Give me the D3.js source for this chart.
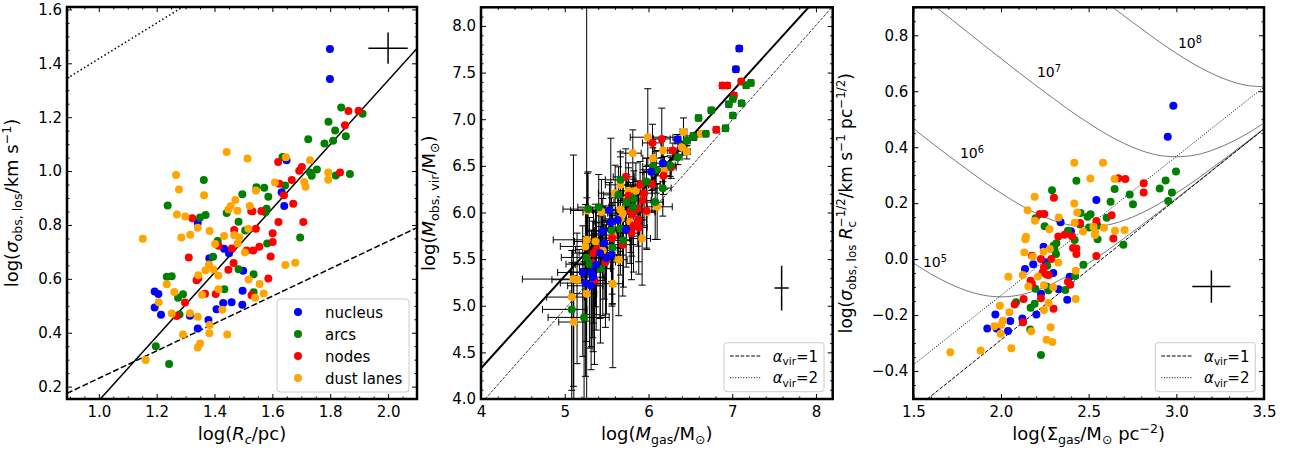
<!DOCTYPE html>
<html>
<head>
<meta charset="utf-8">
<script src="https://cdn.jsdelivr.net/npm/d3@7"></script>
<style>
body { margin: 0; background: #fff; }
svg { font-family: "DejaVu Sans", sans-serif; }
text { white-space: pre; }
</style>
</head>
<body>
<div id="chart"></div>
<script>
const categories = ['nucleus', 'arcs', 'nodes', 'dust lanes'];
const colors = ['#0000ff', '#008000', '#ff0000', '#ffa500'];

// panel 1: [log Rc, log sigma]
const p1Nucleus = [[1.799,1.453],[1.799,1.342],[1.649,1.040],[1.632,0.921],[1.641,0.870],[1.342,0.808],[1.382,0.676],[1.433,0.712],[1.450,0.695],[1.499,0.630],[1.193,0.553],[1.206,0.544],[1.193,0.494],[1.215,0.467],[1.315,0.463],[1.342,0.416],[1.379,0.447],[1.407,0.487],[1.430,0.510],[1.459,0.513],[1.496,0.504],[1.497,0.556]];
const p1Arcs = [[1.838,1.236],[1.912,1.213],[1.794,1.183],[1.817,1.151],[1.854,1.129],[1.724,1.118],[1.780,1.102],[1.810,1.113],[1.754,1.006],[1.730,0.995],[1.736,0.983],[1.819,0.984],[1.868,0.989],[1.635,1.052],[1.644,0.946],[1.496,0.914],[1.545,0.940],[1.572,0.938],[1.586,0.905],[1.580,0.860],[1.576,0.847],[1.442,0.844],[1.483,0.812],[1.506,0.779],[1.411,0.740],[1.582,0.731],[1.696,0.753],[1.395,0.682],[1.363,0.967],[1.369,0.837],[1.350,0.828],[1.238,0.872],[1.235,0.608],[1.252,0.610],[1.291,0.543],[1.274,0.530],[1.279,0.468],[1.483,0.636],[1.535,0.617],[1.434,0.561],[1.535,0.550],[1.197,0.350],[1.243,0.284]];
const p1Nodes = [[1.863,1.223],[1.898,1.224],[1.851,1.170],[1.702,1.015],[1.693,1.001],[1.620,1.034],[1.667,0.967],[1.624,0.953],[1.640,0.910],[1.672,0.879],[1.527,0.852],[1.562,0.852],[1.531,0.851],[1.621,0.811],[1.707,0.811],[1.543,0.786],[1.468,0.781],[1.601,0.769],[1.601,0.737],[1.511,0.705],[1.534,0.705],[1.555,0.719],[1.414,0.723],[1.460,0.713],[1.594,0.683],[1.311,0.679],[1.323,0.825],[1.466,0.659],[1.448,0.634],[1.586,0.601],[1.338,0.595],[1.344,0.602],[1.367,0.545],[1.404,0.544],[1.298,0.512],[1.528,0.539],[1.269,0.462],[1.834,0.995]];
const p1Dust = [[1.442,1.071],[1.514,1.047],[1.730,1.040],[1.647,1.051],[1.793,0.995],[1.793,0.968],[1.710,0.959],[1.715,0.942],[1.609,0.958],[1.543,0.928],[1.267,0.985],[1.277,0.932],[1.364,0.910],[1.270,0.839],[1.299,0.831],[1.285,0.753],[1.316,0.764],[1.152,0.749],[1.342,0.790],[1.383,0.778],[1.472,0.893],[1.456,0.870],[1.448,0.857],[1.479,0.853],[1.522,0.870],[1.433,0.759],[1.468,0.763],[1.485,0.754],[1.517,0.786],[1.402,0.729],[1.480,0.731],[1.505,0.698],[1.381,0.653],[1.396,0.635],[1.369,0.632],[1.413,0.612],[1.344,0.613],[1.518,0.598],[1.556,0.581],[1.645,0.651],[1.679,0.660],[1.570,0.546],[1.540,0.530],[1.357,0.541],[1.414,0.561],[1.235,0.580],[1.261,0.551],[1.207,0.513],[1.252,0.471],[1.315,0.472],[1.342,0.459],[1.427,0.485],[1.383,0.429],[1.382,0.398],[1.291,0.393],[1.444,0.393],[1.350,0.360],[1.342,0.345],[1.162,0.299]];
const p1XTicks = [1.0, 1.2, 1.4, 1.6, 1.8, 2.0];
const p1YTicks = [0.2, 0.4, 0.6, 0.8, 1.0, 1.2, 1.4, 1.6];
const p1FitLine = [[1.005, 0.154], [2.1, 1.455]];
const p1DashLine = [[0.89, 0.175], [2.1, 0.79]];
const p1DotLine = [[0.89, 1.344], [1.29, 1.609]];
const p1ErrCross = [2.0, 1.456, 0.068, 0.058];

// panel 2: [log Mgas, log Mvir, xLo, xHi, yLo, yHi]
const p2Nucleus = [[7.084,7.757,.03,.03,.03,.03],[7.044,7.536,.03,.03,.03,.03],[6.347,6.786,.04,.04,.05,.05],[6.032,6.436,.1,.08,.2,.15],[6.171,6.529,.1,.08,.2,.15],[5.534,6.021,.2,.12,.45,.3],[5.550,5.896,.2,.12,.5,.9],[5.633,5.918,.18,.1,.45,.3],[5.733,5.814,.15,.1,.4,.3],[5.454,5.800,.2,.12,.5,.35],[5.470,5.671,.22,.12,.6,.4],[5.422,5.564,.25,.13,.7,.4],[5.498,5.511,.2,.12,.6,.4],[5.562,5.546,.2,.1,.55,.35],[5.375,5.439,.25,.13,.7,.45],[5.215,5.357,.3,.15,.9,.5],[5.319,5.361,.25,.13,.8,.45],[5.339,5.307,.25,.13,.8,.45],[5.247,5.243,.3,.15,1.0,.5],[5.315,5.214,.28,.14,.9,.5]];
const p2Arcs = [[7.167,7.364,.03,.03,.03,.03],[7.223,7.389,.03,.03,.03,.03],[7.008,7.218,.03,.03,.03,.03],[6.960,7.161,.03,.03,.03,.03],[7.112,7.171,.03,.03,.03,.03],[7.008,7.039,.03,.03,.03,.03],[6.920,6.904,.03,.03,.03,.03],[6.749,7.096,.03,.03,.03,.03],[6.598,7.014,.03,.03,.03,.03],[6.685,6.843,.03,.03,.03,.03],[6.538,6.814,.04,.04,.04,.04],[6.458,6.771,.04,.04,.05,.05],[6.351,6.593,.06,.05,.08,.06],[6.259,6.507,.08,.06,.12,.1],[6.052,6.493,.12,.1,.25,.2],[6.092,6.457,.12,.1,.25,.2],[5.976,6.332,.15,.1,.3,.25],[6.171,6.261,.12,.1,.3,.2],[6.080,6.111,.15,.1,.4,.3],[5.665,6.350,.18,.1,.4,.3],[5.641,6.189,.18,.1,.45,.3],[5.825,6.146,.15,.1,.4,.3],[5.737,6.107,.15,.1,.4,.3],[5.406,6.057,.25,.12,.6,.35],[5.279,6.036,.3,.14,.7,.4],[5.558,5.807,.2,.12,.55,.35],[5.665,5.829,.2,.1,.5,.3],[5.701,5.700,.2,.1,.5,.3],[5.570,5.621,.2,.12,.6,.35],[5.259,5.518,.3,.15,.9,.5],[5.295,5.446,.28,.14,.9,.5],[5.426,5.400,.25,.12,.8,.45],[5.084,4.961,.35,.18,1.0,.5],[5.231,4.875,.43,.3,1.1,.6],[5.817,6.057,.15,.1,.4,.3]];
const p2Nodes = [[7.108,7.404,.03,.03,.03,.03],[6.884,7.361,.03,.03,.03,.03],[6.940,7.361,.03,.03,.03,.03],[7.020,7.254,.03,.03,.03,.03],[6.809,6.886,.03,.03,.03,.03],[6.159,6.789,.1,.1,.2,.33],[6.048,6.746,.12,.1,.25,.2],[6.291,6.664,.06,.05,.1,.08],[6.271,6.486,.07,.06,.12,.1],[6.179,6.393,.1,.08,.2,.15],[6.040,6.304,.12,.1,.3,.2],[5.729,6.382,.15,.1,.4,.3],[5.900,6.296,.15,.1,.35,.25],[5.948,6.207,.15,.1,.35,.25],[5.761,6.179,.15,.1,.4,.3],[5.932,6.129,.15,.1,.4,.3],[5.789,6.021,.18,.1,.45,.3],[5.801,5.982,.18,.1,.45,.3],[5.873,6.039,.15,.1,.4,.3],[5.976,6.018,.15,.1,.4,.3],[5.880,5.921,.15,.1,.45,.3],[5.821,5.861,.18,.1,.5,.3],[5.884,5.839,.15,.1,.5,.3],[5.797,5.779,.18,.1,.5,.35],[5.566,5.725,.2,.12,.6,.35],[5.693,5.654,.2,.1,.55,.35],[5.378,5.604,.25,.13,.7,.4],[5.343,5.564,.25,.13,.75,.45],[5.486,5.468,.22,.12,.7,.4],[5.335,5.457,.25,.13,.8,.45],[5.355,5.271,.25,.13,.9,.5]];
const p2Dust = [[6.418,6.864,.04,.04,.1,.15],[6.629,6.843,.03,.03,.03,.03],[5.992,6.807,.21,.3,.3,.52],[5.813,6.636,.15,.1,.35,.25],[6.175,6.664,.1,.08,.2,.15],[6.052,6.582,.12,.1,.25,.2],[6.402,6.696,.05,.04,.08,.06],[6.458,6.654,.05,.04,.08,.06],[6.191,6.450,.1,.08,.2,.15],[5.665,6.296,.18,.1,.45,.3],[5.602,6.207,.2,.1,.45,.3],[5.761,6.232,.15,.1,.4,.3],[5.849,6.232,.15,.1,.4,.3],[6.104,6.061,.12,.18,.35,.25],[5.438,6.004,.22,.12,.55,.35],[5.271,6.021,.2,.1,.7,.4],[5.665,6.029,.18,.1,.45,.3],[5.693,5.993,.18,.1,.45,.3],[5.781,5.904,.18,.1,.45,.3],[5.665,5.932,.18,.1,.5,.3],[5.980,6.004,.15,.1,.4,.3],[5.574,5.757,.2,.12,.55,.35],[5.924,5.721,.15,.1,.5,.3],[5.263,5.707,.4,.08,.8,.45],[5.367,5.689,.25,.13,.7,.4],[5.247,5.636,.3,.14,.8,.45],[5.454,5.593,.22,.12,.7,.4],[5.566,5.618,.2,.12,.6,.35],[5.645,5.493,.2,.1,.6,.35],[5.147,5.279,.3,.1,.9,.5],[5.104,5.286,.61,.1,1.15,1.33],[5.084,5.093,.3,.15,1.0,.5],[5.262,5.129,.2,.12,3.0,4.0],[5.574,5.236,.2,.12,.9,.5],[5.108,4.825,.18,.15,1.0,.5]];
const p2XTicks = [4, 5, 6, 7, 8];
const p2YTicks = [4.0, 4.5, 5.0, 5.5, 6.0, 6.5, 7.0, 7.5, 8.0];
const p2FitLine = [[4.0, 4.33], [7.912, 8.2]];
const p2DashLine = [[4.05, 4.0], [8.2, 8.21]];
const p2ErrCross = [7.59, 5.19, 0.084, 0.24];

// panel 3: [log Sigma, log sigma/Rc^0.5]
const p3Nucleus = [[2.983,0.548],[2.951,0.437],[2.544,0.211],[2.340,0.132],[2.399,0.100],[2.243,0.044],[2.255,-0.011],[2.184,-0.018],[2.137,-0.035],[2.298,-0.050],[2.392,-0.063],[2.329,-0.108],[2.228,-0.124],[2.378,-0.145],[1.968,-0.198],[2.202,-0.198],[2.053,-0.221],[2.122,-0.212],[2.125,-0.225],[1.922,-0.248],[1.975,-0.248],[2.040,-0.257]];
const p3Arcs = [[2.998,0.313],[2.939,0.281],[2.905,0.252],[2.975,0.238],[2.954,0.208],[2.734,0.231],[2.753,0.196],[2.648,0.251],[2.625,0.205],[2.430,0.280],[2.291,0.246],[2.198,0.146],[2.249,0.117],[2.454,0.165],[2.511,0.160],[2.494,0.151],[2.502,0.113],[2.551,0.119],[2.603,0.148],[2.451,0.124],[2.382,0.101],[2.420,0.068],[2.551,0.071],[2.698,0.051],[2.316,0.057],[2.300,0.048],[2.304,0.036],[2.314,0.018],[2.470,-0.020],[2.264,-0.024],[2.422,-0.060],[2.260,-0.098],[2.270,-0.111],[2.196,-0.106],[2.367,-0.110],[2.086,-0.154],[2.192,-0.160],[2.169,-0.174],[2.167,-0.252],[2.228,-0.343]];
const p3Nodes = [[2.669,0.289],[2.709,0.286],[2.814,0.271],[2.814,0.238],[2.302,0.219],[2.222,0.161],[2.247,0.161],[2.631,0.157],[2.544,0.136],[2.451,0.129],[2.363,0.087],[2.327,0.081],[2.405,0.082],[2.641,0.074],[2.411,0.040],[2.430,0.038],[2.430,0.018],[2.544,0.011],[2.177,0.012],[2.228,0.000],[2.287,0.000],[2.245,-0.030],[2.237,-0.048],[2.260,-0.055],[2.272,-0.057],[2.169,-0.077],[2.177,-0.089],[2.382,-0.081],[2.395,-0.092],[2.129,-0.143],[2.078,-0.162],[2.228,-0.140],[2.300,-0.177],[2.125,-0.226]];
const p3Dust = [[2.418,0.344],[2.582,0.344],[2.510,0.288],[2.648,0.286],[2.192,0.223],[2.418,0.199],[2.152,0.175],[2.435,0.167],[2.194,0.137],[2.329,0.149],[2.420,0.130],[2.587,0.112],[2.276,0.107],[2.527,0.116],[2.650,0.101],[2.705,0.104],[2.538,0.095],[2.468,0.099],[2.536,0.086],[2.143,0.080],[2.133,0.024],[2.181,0.008],[2.243,0.026],[2.279,0.036],[2.327,-0.012],[2.124,-0.057],[2.042,-0.063],[2.211,-0.062],[2.156,-0.098],[2.245,-0.093],[2.298,-0.101],[2.426,-0.042],[2.426,-0.143],[1.994,-0.167],[2.272,-0.157],[2.245,-0.182],[2.048,-0.190],[2.011,-0.220],[2.001,-0.235],[1.962,-0.240],[1.998,-0.267],[2.283,-0.244],[2.173,-0.258],[2.260,-0.288],[2.293,-0.296],[2.059,-0.319],[1.884,-0.327],[1.711,-0.333],[2.139,0.071]];
const p3XTicks = [1.5, 2.0, 2.5, 3.0, 3.5];
const p3YTicks = [-0.4, -0.2, 0.0, 0.2, 0.4, 0.6, 0.8];
const p3DashLine = [[1.58, -0.5], [3.5, 0.465]];
const p3DotLine = [[1.5, -0.378], [3.5, 0.615]];
const p3ErrCross = [3.2, -0.098, 0.109, 0.058];
const p3CurveX = [1.5,1.6,1.7,1.8,1.9,2.0,2.1,2.2,2.3,2.4,2.5,2.6,2.7,2.8,2.9,3.0,3.1,3.2,3.3,3.4,3.5];
const p3Curve5 = [-0.014,-0.053,-0.086,-0.112,-0.129,-0.135,-0.129,-0.112,-0.086,-0.053,-0.014,0.028,0.074,0.120,0.168,0.217,0.266,0.316,0.366,0.415,0.465];
const p3Curve6 = [0.467,0.418,0.370,0.324,0.278,0.236,0.197,0.164,0.138,0.121,0.116,0.121,0.138,0.164,0.197,0.236,0.278,0.324,0.370,0.418,0.467];
const p3Curve7 = [0.965,0.915,0.866,0.816,0.766,0.717,0.668,0.620,0.574,0.528,0.486,0.447,0.414,0.388,0.371,0.366,0.371,0.388,0.414,0.447,0.486];
const p3Curve8 = [null,null,null,null,null,null,null,null,null,null,0.967,0.918,0.870,0.824,0.778,0.736,0.697,0.664,0.638,0.621,0.616];
const p3CurveLabels = [['5', 1.555, -0.029], ['6', 1.766, 0.361], ['7', 2.205, 0.650], ['8', 3.009, 0.754]];

const svg = d3.select('#chart').append('svg')
    .attr('width', 1289)
    .attr('height', 452);

function rich(text, parts, fs) {
    let cur = 0;
    parts.forEach(p => {
        const off = p.s === 'sub' ? fs * 0.24 : p.s === 'sup' ? -fs * 0.4 : 0;
        text.append('tspan')
            .attr('dy', off - cur)
            .attr('dx', p.dx || null)
            .attr('font-size', p.s ? fs * 0.7 : fs)
            .attr('font-style', p.i ? 'italic' : null)
            .text(p.t);
        cur = off;
    });
    return text;
}

function setupPanel(id, cfg) {
    const x = d3.scaleLinear().domain(cfg.xDomain).range([cfg.left, cfg.right]);
    const y = d3.scaleLinear().domain(cfg.yDomain).range([cfg.bottom, cfg.top]);
    const g = svg.append('g');
    svg.append('clipPath').attr('id', id).append('rect')
        .attr('x', cfg.left).attr('y', cfg.top)
        .attr('width', cfg.right - cfg.left).attr('height', cfg.bottom - cfg.top);
    const plot = g.append('g').attr('clip-path', `url(#${id})`);
    return {x, y, g, plot, cfg};
}

function minorTicks(domain, step, majors) {
    const start = Math.ceil(domain[0] / step - 1e-6) * step;
    return d3.range(start, domain[1] + 1e-9, step)
        .filter(v => !majors.some(t => Math.abs(t - v) < 1e-6));
}

function drawAxes(p, xt, yt, xStep, yStep, xFmt, yFmt) {
    const {x, y, g, cfg} = p;
    const xm = minorTicks(cfg.xDomain, xStep, xt);
    const ym = minorTicks(cfg.yDomain, yStep, yt);
    const blank = () => '';
    const style = a => {
        a.select('.domain').remove();
        a.attr('font-size', 15).attr('font-family', 'DejaVu Sans');
        a.selectAll('line').attr('stroke-width', 1);
    };
    g.append('g').attr('transform', `translate(0,${cfg.bottom})`)
        .call(d3.axisBottom(x).tickValues(xt).tickSize(-5).tickSizeOuter(0).tickPadding(7).tickFormat(xFmt)).call(style);
    g.append('g').attr('transform', `translate(0,${cfg.bottom})`)
        .call(d3.axisBottom(x).tickValues(xm).tickSize(-2.5).tickSizeOuter(0).tickFormat(blank)).call(style);
    g.append('g').attr('transform', `translate(0,${cfg.top})`)
        .call(d3.axisTop(x).tickValues(xt).tickSize(-5).tickSizeOuter(0).tickFormat(blank)).call(style);
    g.append('g').attr('transform', `translate(0,${cfg.top})`)
        .call(d3.axisTop(x).tickValues(xm).tickSize(-2.5).tickSizeOuter(0).tickFormat(blank)).call(style);
    g.append('g').attr('transform', `translate(${cfg.left},0)`)
        .call(d3.axisLeft(y).tickValues(yt).tickSize(-5).tickSizeOuter(0).tickPadding(5).tickFormat(yFmt)).call(style);
    g.append('g').attr('transform', `translate(${cfg.left},0)`)
        .call(d3.axisLeft(y).tickValues(ym).tickSize(-2.5).tickSizeOuter(0).tickFormat(blank)).call(style);
    g.append('g').attr('transform', `translate(${cfg.right},0)`)
        .call(d3.axisRight(y).tickValues(yt).tickSize(-5).tickSizeOuter(0).tickFormat(blank)).call(style);
    g.append('g').attr('transform', `translate(${cfg.right},0)`)
        .call(d3.axisRight(y).tickValues(ym).tickSize(-2.5).tickSizeOuter(0).tickFormat(blank)).call(style);
    g.append('rect')
        .attr('x', cfg.left).attr('y', cfg.top)
        .attr('width', cfg.right - cfg.left).attr('height', cfg.bottom - cfg.top)
        .attr('fill', 'none').attr('stroke', '#000').attr('stroke-width', 2.5);
}

function axisLabels(p, xParts, yParts, yLabelX, yFs) {
    const {g, cfg} = p;
    rich(g.append('text')
        .attr('x', (cfg.left + cfg.right) / 2).attr('y', 440)
        .attr('text-anchor', 'middle'), xParts, 18);
    rich(g.append('text')
        .attr('transform', `translate(${yLabelX},${(cfg.top + cfg.bottom) / 2}) rotate(-90)`)
        .attr('text-anchor', 'middle'), yParts, yFs || 18);
}

function drawLine(p, pts, width, dash, color) {
    p.plot.append('path')
        .datum(pts)
        .attr('fill', 'none')
        .attr('stroke', color || '#000')
        .attr('stroke-width', width)
        .attr('stroke-dasharray', dash)
        .attr('d', d3.line().x(d => p.x(d[0])).y(d => p.y(d[1])));
}

function drawPoints(p, sets) {
    sets.forEach(([pts, ci]) => {
        p.plot.append('g').selectAll('circle')
            .data(pts)
            .enter()
            .append('circle')
            .attr('cx', d => p.x(d[0]))
            .attr('cy', d => p.y(d[1]))
            .attr('r', 4)
            .attr('fill', colors[ci]);
    });
}

function errCross(p, e) {
    const [cx, cy, dx, dy] = e;
    drawLine(p, [[cx - dx, cy], [cx + dx, cy]], 1.5);
    drawLine(p, [[cx, cy - dy], [cx, cy + dy]], 1.5);
}

function lineLegend(p, entries) {
    const {g, cfg} = p;
    const bx = cfg.right - 108.7, by = cfg.bottom - 56.3;
    g.append('rect')
        .attr('x', bx).attr('y', by).attr('width', 100).attr('height', 49).attr('rx', 3)
        .attr('fill', '#fff').attr('fill-opacity', 0.8).attr('stroke', '#ccc');
    entries.forEach((e, i) => {
        const ly = by + 13.3 + i * 21.7;
        g.append('line')
            .attr('x1', bx + 6).attr('x2', bx + 36.7).attr('y1', ly).attr('y2', ly)
            .attr('stroke', '#000').attr('stroke-width', 1).attr('stroke-dasharray', e.dash);
        rich(g.append('text').attr('x', bx + 48.7).attr('y', ly + 5.5),
            [{t: 'α', i: 1}, {t: 'vir', s: 'sub'}, {t: '=' + e.n}], 15);
    });
}

const f1 = d3.format('.1f');
const fInt = d3.format('d');

// ---------- panel 1 ----------
const pA = setupPanel('clipA', {left: 67, right: 417, top: 7, bottom: 399, xDomain: [0.89, 2.1], yDomain: [0.154, 1.609]});
drawLine(pA, p1DotLine, 1.5, '1.5,2.5');
drawLine(pA, p1DashLine, 1.5, '6,2.5');
drawLine(pA, p1FitLine, 1.5, null);
drawPoints(pA, [[p1Nucleus, 0], [p1Arcs, 1], [p1Nodes, 2], [p1Dust, 3]]);
errCross(pA, p1ErrCross);
drawAxes(pA, p1XTicks, p1YTicks, 0.05, 0.05, f1, f1);
axisLabels(pA,
    [{t: 'log('}, {t: 'R', i: 1}, {t: 'c', s: 'sub', i: 1}, {t: '/pc)'}],
    [{t: 'log('}, {t: 'σ', i: 1}, {t: 'obs, los', s: 'sub'}, {t: '/km s'}, {t: '−1', s: 'sup'}, {t: ')'}],
    18);

const leg1 = pA.g.append('g');
leg1.append('rect')
    .attr('x', 277).attr('y', 299).attr('width', 132).attr('height', 93).attr('rx', 3)
    .attr('fill', '#fff').attr('fill-opacity', 0.8).attr('stroke', '#ccc');
categories.forEach((c, i) => {
    const ly = 312 + i * 22;
    leg1.append('circle').attr('cx', 298).attr('cy', ly).attr('r', 4).attr('fill', colors[i]);
    leg1.append('text').attr('x', 325).attr('y', ly + 5.5).attr('font-size', 15).text(c);
});

// ---------- panel 2 ----------
const pB = setupPanel('clipB', {left: 481, right: 832.7, top: 7.3, bottom: 399, xDomain: [4, 8.2], yDomain: [4, 8.2]});
drawLine(pB, p2DashLine, 0.8, '3,1.4');
drawLine(pB, p2FitLine, 2, null);
const allMass = [p2Nucleus, p2Arcs, p2Nodes, p2Dust];
const bars = pB.plot.append('g').attr('stroke', '#000').attr('stroke-width', 1);
allMass.forEach(set => {
    set.forEach(d => {
        const [mx, my, xl, xh, yl, yh] = d;
        const px = pB.x(mx), py = pB.y(my);
        const x0 = pB.x(mx - xl), x1 = pB.x(mx + xh);
        const y0 = pB.y(my - yl), y1 = pB.y(my + yh);
        bars.append('line').attr('x1', x0).attr('x2', x1).attr('y1', py).attr('y2', py);
        bars.append('line').attr('x1', px).attr('x2', px).attr('y1', y0).attr('y2', y1);
        [x0, x1].forEach(cx => bars.append('line').attr('x1', cx).attr('x2', cx).attr('y1', py - 3.5).attr('y2', py + 3.5));
        [y0, y1].forEach(cy => bars.append('line').attr('x1', px - 3.5).attr('x2', px + 3.5).attr('y1', cy).attr('y2', cy));
    });
});
drawPoints(pB, [[p2Dust, 3], [p2Nodes, 2], [p2Arcs, 1], [p2Nucleus, 0]]);
errCross(pB, p2ErrCross);
drawAxes(pB, p2XTicks, p2YTicks, 0.2, 0.1, fInt, f1);
axisLabels(pB,
    [{t: 'log('}, {t: 'M', i: 1}, {t: 'gas', s: 'sub'}, {t: '/M'}, {t: '⊙', s: 'sub'}, {t: ')'}],
    [{t: 'log('}, {t: 'M', i: 1}, {t: 'obs, vir', s: 'sub'}, {t: '/M'}, {t: '⊙', s: 'sub'}, {t: ')'}],
    435);
lineLegend(pB, [{n: 1, dash: '3.7,1.6'}, {n: 2, dash: '1,1.65'}]);

// ---------- panel 3 ----------
const pC = setupPanel('clipC', {left: 913.3, right: 1264, top: 7.3, bottom: 399, xDomain: [1.5, 3.5], yDomain: [-0.5, 0.9]});
const curve = d3.line()
    .defined(d => d[1] !== null)
    .x(d => pC.x(d[0]))
    .y(d => pC.y(d[1]))
    .curve(d3.curveCatmullRom);
[p3Curve5, p3Curve6, p3Curve7, p3Curve8].forEach(vals => {
    pC.plot.append('path')
        .datum(p3CurveX.map((v, i) => [v, vals[i]]))
        .attr('fill', 'none')
        .attr('stroke', '#555')
        .attr('stroke-width', 0.8)
        .attr('d', curve);
});
p3CurveLabels.forEach(([n, lx, ly]) => {
    rich(pC.g.append('text').attr('x', pC.x(lx)).attr('y', pC.y(ly)),
        [{t: '10'}, {t: n, s: 'sup'}], 14);
});
drawLine(pC, p3DotLine, 1, '1,1.65');
drawLine(pC, p3DashLine, 1, '3.7,1.6');
drawPoints(pC, [[p3Nucleus, 0], [p3Arcs, 1], [p3Nodes, 2], [p3Dust, 3]]);
errCross(pC, p3ErrCross);
drawAxes(pC, p3XTicks, p3YTicks, 0.1, 0.05, f1, f1);
axisLabels(pC,
    [{t: 'log(Σ'}, {t: 'gas', s: 'sub'}, {t: '/M'}, {t: '⊙', s: 'sub'}, {t: ' pc'}, {t: '−2', s: 'sup'}, {t: ')'}],
    [{t: 'log('}, {t: 'σ', i: 1}, {t: 'obs, los', s: 'sub'}, {t: ' '}, {t: 'R', i: 1}, {t: 'c', s: 'sub'},
     {t: '−1/2', s: 'sup', dx: -6.5}, {t: '/km s'}, {t: '−1', s: 'sup'}, {t: ' pc'}, {t: '−1/2', s: 'sup'}, {t: ')'}],
    852, 17);
lineLegend(pC, [{n: 1, dash: '3.7,1.6'}, {n: 2, dash: '1,1.65'}]);
</script>
</body>
</html>
